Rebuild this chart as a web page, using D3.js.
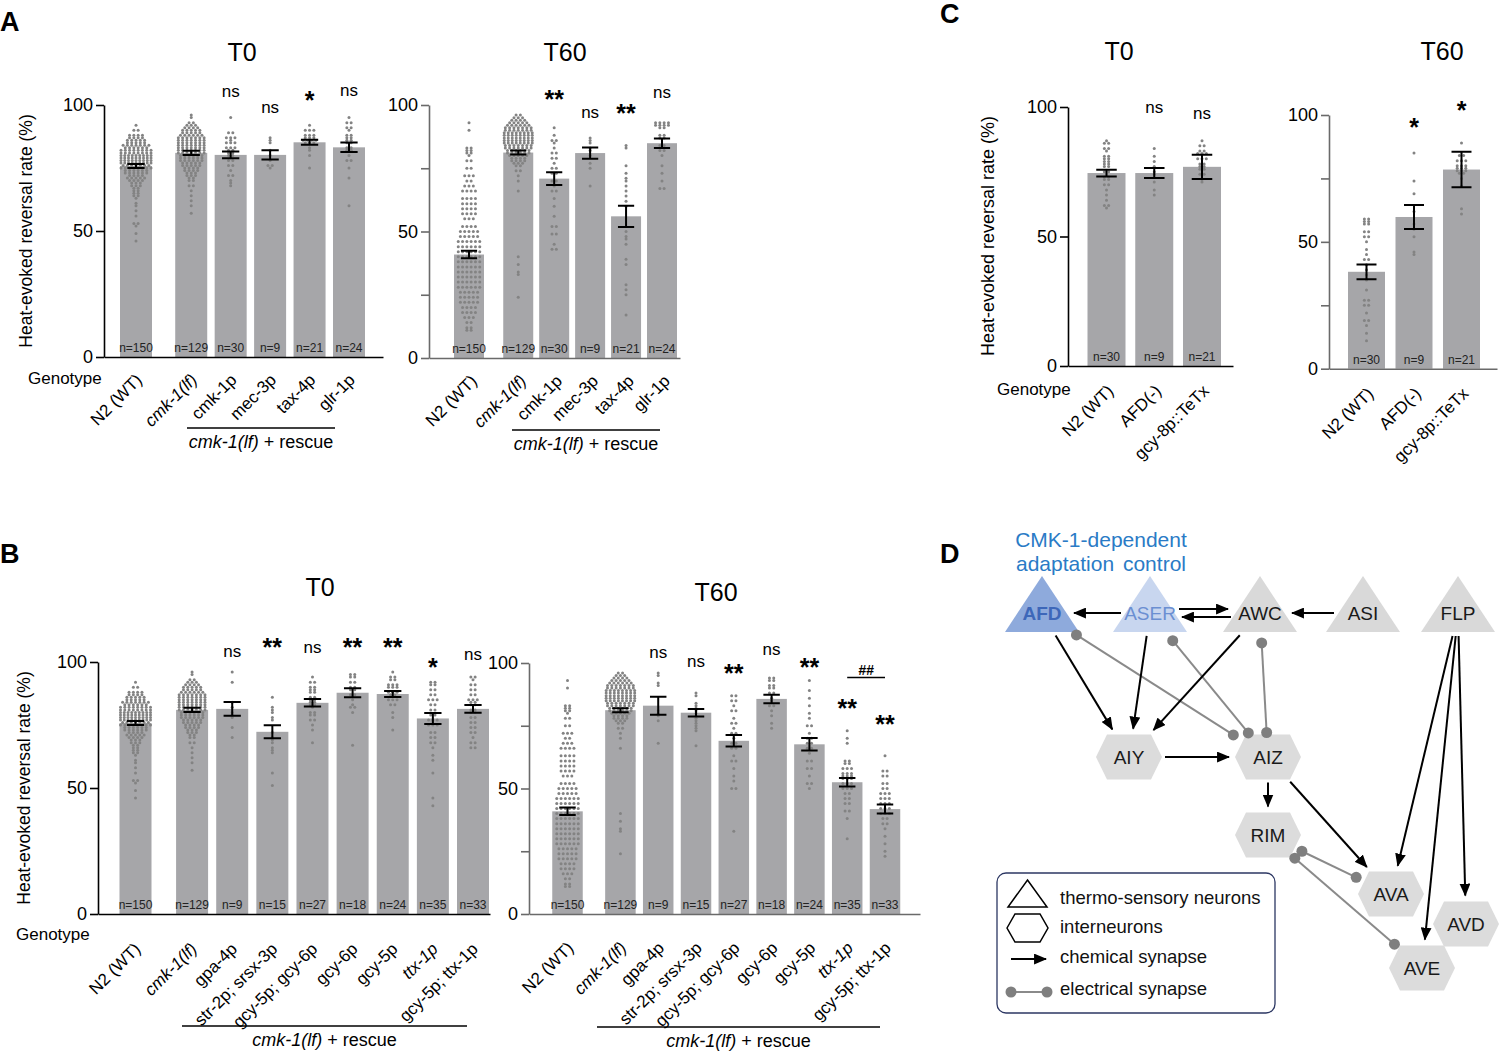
<!DOCTYPE html>
<html>
<head>
<meta charset="utf-8">
<script src="https://cdnjs.cloudflare.com/ajax/libs/d3/7.8.5/d3.min.js"></script>
<style>
  body { margin: 0; background: #fff; }
  svg { font-family: "Liberation Sans", Arial, Helvetica, sans-serif; }
</style>
</head>
<body>
<svg id="fig" width="1500" height="1054"></svg>
<script>
// ---------------- data ----------------
var catsA = ['N2 (WT)', 'cmk-1(lf)', 'cmk-1p', 'mec-3p', 'tax-4p', 'glr-1p'];
var catsB = ['N2 (WT)', 'cmk-1(lf)', 'gpa-4p', 'str-2p; srsx-3p', 'gcy-5p; gcy-6p', 'gcy-6p', 'gcy-5p', 'ttx-1p', 'gcy-5p; ttx-1p'];
var catsC = ['N2 (WT)', 'AFD(-)', 'gcy-8p::TeTx'];
var nA = [150, 129, 30, 9, 21, 24];
var nB = [150, 129, 9, 15, 27, 18, 24, 35, 33];
var nC = [30, 9, 21];

// bar means and SEM (%)
var meanA_T0 = [75.8, 81.0, 80.2, 80.2, 85.2, 83.2];
var semA_T0 = [0.8, 0.8, 1.3, 1.8, 1.0, 1.9];
var meanA_T60 = [40.9, 81.2, 70.9, 81.0, 56.0, 84.9];
var semA_T60 = [1.5, 0.8, 2.5, 2.2, 4.2, 1.9];
var meanB_T0 = [75.8, 81.0, 81.4, 72.3, 83.8, 87.8, 87.3, 77.6, 81.4];
var semB_T0 = [0.8, 0.8, 2.7, 2.6, 1.5, 1.8, 1.2, 2.2, 1.5];
var meanB_T60 = [40.9, 81.2, 83.0, 80.2, 69.0, 85.7, 67.6, 52.5, 41.8];
var semB_T60 = [1.5, 0.8, 3.6, 1.5, 2.3, 1.7, 2.5, 1.7, 1.8];
var meanC_T0 = [74.5, 74.5, 76.9];
var semC_T0 = [1.3, 1.9, 4.7];
var meanC_T60 = [38.2, 59.8, 78.5];
var semC_T60 = [2.9, 4.7, 7.0];

// significance marks and the height (in %) they sit at
var sigA_T0 = ['', '', 'ns', 'ns', '*', 'ns'];
var sigLvA_T0 = [null, null, 105, 99, 104, 105.5];
var sigA_T60 = ['', '', '**', 'ns', '**', 'ns'];
var sigLvA_T60 = [null, null, 104.3, 97, 98.8, 104.7];
var sigB_T0 = ['', '', 'ns', '**', 'ns', '**', '**', '*', 'ns'];
var sigLvB_T0 = [null, null, 104, 108, 105.5, 108, 108, 100, 102.8];
var sigB_T60 = ['', '', 'ns', 'ns', '**', 'ns', '**', '**', '**'];
var sigLvB_T60 = [null, null, 104, 100.4, 98, 105, 100.4, 84, 77.7];
var sigC_T0 = ['', 'ns', 'ns'];
var sigLvC_T0 = [null, 99.6, 97.3];
var sigC_T60 = ['', '*', '*'];
var sigLvC_T60 = [null, 97.2, 104];
// ttx-1p vs gcy-5p; ttx-1p comparison in B T60
var hashB_T60 = { from: 7, to: 8, label: '##', level: 97.2 };

// individual animals, as [value, count]
var dotsN2_T0 = [[92,1],[90,2],[88,4],[87,4],[86,5],[85,5],[84,7],[83,6],[82,8],[81,8],[80,9],[79,9],[78,9],[77,9],[76,7],[75,8],[74,6],[73,6],[72,4],[71,5],[70,4],[69,3],[68,3],[67,2],[66,2],[65,2],[64,2],[63,1],[61,1],[60,1],[58,1],[56,1],[53,2],[52,1],[49,1],[46,1]];
var dotsCmk1_T0 = [[96,1],[95,1],[93,2],[92,3],[91,4],[90,5],[89,5],[88,6],[87,7],[86,7],[85,7],[84,7],[83,7],[82,7],[81,7],[80,6],[79,6],[78,6],[77,5],[76,5],[75,4],[74,4],[73,3],[72,3],[71,2],[70,2],[68,2],[66,1],[64,1],[62,1],[60,1],[57,1]];
var dotsN2_T60 = [[93,1],[90,1],[83,2],[82,2],[81,2],[80,1],[78,2],[75,2],[72,3],[70,2],[68,3],[66,4],[63,4],[61,4],[59,4],[57,4],[55,3],[52,4],[50,5],[48,5],[46,6],[44,6],[42,6],[40,6],[38,6],[36,6],[34,6],[32,6],[30,6],[28,6],[26,5],[24,5],[22,5],[20,4],[18,4],[16,3],[14,2],[12,2],[11,2]];
var dotsCmk1_T60 = [[96,2],[95,3],[94,4],[93,5],[92,6],[91,7],[90,7],[89,8],[88,8],[87,8],[86,8],[85,8],[84,7],[83,7],[82,6],[81,6],[80,5],[79,4],[78,4],[77,3],[76,2],[74,2],[72,1],[70,1],[66,1],[40,1],[37,1],[34,1],[33,1],[24,1]];

var dotsA_T0 = [dotsN2_T0, dotsCmk1_T0,
  [[95,1],[89,2],[87,3],[86,1],[85,3],[83,3],[82,2],[81,2],[80,2],[79,1],[78,2],[76,2],[74,1],[72,2],[70,1],[69,1],[68,1]],
  [[87,1],[86,1],[85,1],[82,1],[80,1],[78,1],[76,2],[75,1]],
  [[92,1],[90,3],[88,3],[87,3],[86,4],[85,3],[83,1],[82,1],[80,1],[75,1]],
  [[95,1],[93,2],[91,2],[90,1],[88,2],[87,2],[86,2],[85,2],[83,2],[82,2],[80,1],[78,2],[75,1],[71,1],[60,1]]];
var dotsA_T60 = [dotsN2_T60, dotsCmk1_T60,
  [[91,1],[88,1],[86,2],[85,1],[83,1],[81,2],[79,2],[77,1],[75,2],[73,2],[70,2],[68,1],[66,2],[63,1],[60,1],[56,1],[52,2],[49,2],[45,1],[43,2]],
  [[87,1],[86,1],[85,1],[83,1],[82,1],[80,1],[77,1],[75,1],[68,1]],
  [[84,1],[83,1],[76,1],[73,1],[71,1],[70,1],[68,1],[66,1],[64,1],[62,1],[60,1],[50,1],[48,1],[47,1],[45,1],[39,1],[37,1],[29,1],[27,1],[25,1],[17,1]],
  [[93,4],[92,4],[91,2],[88,2],[87,2],[84,2],[82,2],[80,1],[76,1],[73,1],[70,1],[67,2]]];
var dotsB_T0 = [dotsN2_T0, dotsCmk1_T0,
  [[96,1],[92,1],[84,1],[82,1],[80,1],[79,1],[78,1],[74,1],[70,1]],
  [[86,1],[82,1],[81,1],[80,1],[78,1],[77,1],[72,1],[70,1],[69,1],[68,1],[66,1],[65,1],[64,1],[56,1],[51,1]],
  [[94,1],[92,2],[90,2],[89,2],[88,2],[86,2],[85,2],[84,2],[83,2],[82,1],[80,2],[79,2],[77,2],[75,1],[73,1],[68,1]],
  [[95,2],[94,2],[92,2],[90,2],[89,2],[87,2],[85,1],[83,1],[82,2],[80,1],[67,1]],
  [[96,1],[94,2],[93,2],[91,3],[90,3],[88,3],[87,2],[85,3],[83,2],[80,1],[78,1],[73,1]],
  [[92,2],[91,2],[89,2],[87,2],[85,3],[83,2],[81,2],[79,2],[77,3],[75,3],[72,2],[70,2],[68,2],[66,1],[63,1],[61,1],[56,1],[46,1],[43,1]],
  [[94,2],[93,1],[91,2],[89,2],[87,2],[85,3],[84,2],[83,2],[81,2],[80,2],[78,2],[76,2],[74,2],[72,2],[70,1],[68,2],[66,2]]];
var dotsB_T60 = [dotsN2_T60, dotsCmk1_T60,
  [[96,1],[95,1],[92,1],[91,1],[81,1],[80,1],[79,1],[77,1],[68,1]],
  [[88,1],[87,1],[84,1],[83,1],[82,1],[81,1],[80,1],[79,1],[78,1],[77,1],[76,1],[75,1],[74,1],[73,1],[67,1]],
  [[87,2],[85,2],[83,1],[81,2],[78,1],[76,2],[74,1],[72,2],[70,1],[68,2],[66,2],[63,1],[61,2],[58,1],[55,1],[53,1],[50,2],[33,1]],
  [[94,2],[93,2],[91,2],[90,2],[88,2],[86,1],[85,1],[83,2],[81,1],[79,1],[76,1],[74,1]],
  [[93,1],[89,1],[86,1],[83,1],[80,1],[78,1],[75,2],[72,1],[70,2],[68,2],[66,2],[64,1],[61,2],[58,2],[55,1],[52,2],[50,1]],
  [[73,1],[70,1],[68,1],[61,2],[60,2],[58,3],[56,3],[55,3],[54,3],[52,3],[50,3],[48,2],[46,2],[44,2],[41,2],[38,1],[30,1]],
  [[63,1],[57,2],[55,2],[52,2],[50,2],[48,3],[46,3],[44,3],[42,3],[40,3],[38,2],[36,2],[34,1],[31,1],[28,1],[25,1],[23,1]]];
var dotsC_T0 = [
  [[87,1],[86,2],[84,2],[83,1],[81,2],[80,2],[79,2],[78,2],[77,2],[75,2],[73,2],[72,2],[70,2],[68,1],[66,1],[64,1],[62,2],[61,1]],
  [[84,1],[81,1],[79,1],[77,1],[75,1],[74,1],[71,1],[68,1],[66,1]],
  [[87,1],[85,2],[83,2],[82,3],[80,3],[78,2],[77,2],[76,2],[74,2],[72,1],[71,1]]];
var dotsC_T60 = [
  [[59,2],[58,2],[57,2],[54,2],[52,2],[50,1],[47,1],[45,1],[43,2],[41,1],[39,1],[37,1],[35,1],[31,1],[27,2],[25,2],[22,1],[19,2],[17,1],[14,1],[11,1]],
  [[85,1],[74,1],[69,1],[62,1],[57,1],[55,1],[52,1],[46,1],[45,1]],
  [[89,1],[84,2],[82,3],[80,3],[79,3],[78,3],[77,2],[75,1],[72,1],[63,1],[61,1]]];

// circuit (panel D)
var sensoryNeurons = ['AFD', 'ASER', 'AWC', 'ASI', 'FLP'];
var interNeurons = ['AIY', 'AIZ', 'RIM', 'AVA', 'AVD', 'AVE'];
var chemicalSynapses = [['ASER','AFD'],['ASER','AWC'],['AWC','ASER'],['ASI','AWC'],['AFD','AIY'],['ASER','AIY'],['AWC','AIY'],
  ['AIY','AIZ'],['AIZ','RIM'],['AIZ','AVA'],['FLP','AVA'],['FLP','AVE'],['FLP','AVD']];
var electricalSynapses = [['AFD','AIZ'],['ASER','AIZ'],['AWC','AIZ'],['RIM','AVA'],['RIM','AVE']];

// ---------------- drawing ----------------
var svg = d3.select('#fig');
svg.append('rect').attr('width', 1500).attr('height', 1054).attr('fill', '#fff');

var BAR = '#a6a6a9', DOT = '#838383';
var italicCats = new Set(['cmk-1(lf)', 'ttx-1p']);

// scatter like prism: equal values in a centred row, kept within the bar
function scatterRows(bins, cx, y, maxW) {
  var pts = [];
  bins.forEach(function (b) {
    var c = b[1], step = Math.min(4.3, c > 1 ? maxW / (c - 1) : 0);
    for (var j = 0; j < c; j++) pts.push({ x: cx + (j - (c - 1) / 2) * step, y: y(b[0]) });
  });
  return pts;
}

function styleAxis(sel, col) {
  sel.attr('font-family', null).attr('font-size', null);
  sel.selectAll('path.domain').attr('stroke', col).attr('stroke-width', 1.6);
  sel.selectAll('.tick line').attr('stroke', col).attr('stroke-width', 1.6);
  sel.selectAll('.tick text').attr('fill', '#000').style('font-size', '18px');
}

function drawPanel(p) {
  var g = svg.append('g');
  var y = d3.scaleLinear().domain([0, 100]).range([p.y0, p.y100]);
  var slot = p.cats.map(function (c, i) { return i === 0 ? 0 : i + p.gap; });
  var x = d3.scaleLinear().domain([0, slot[slot.length - 1]]).range([p.x0, p.x1]);
  var cx = function (i) { return x(slot[i]); };
  var axisCol = p.minor ? '#6a6a6a' : '#000';

  g.append('g').selectAll('rect').data(p.mean).join('rect')
    .attr('x', function (d, i) { return cx(i) - p.barW / 2; })
    .attr('y', function (d) { return y(d); })
    .attr('width', p.barW)
    .attr('height', function (d) { return y(0) - y(d); })
    .attr('fill', BAR);

  p.dots.forEach(function (bins, i) {
    var pts = scatterRows(bins, cx(i), y, p.barW - 2);
    g.append('g').selectAll('circle').data(pts).join('circle')
      .attr('cx', function (d) { return d.x; })
      .attr('cy', function (d) { return d.y; })
      .attr('r', 1.5).attr('fill', DOT);
  });

  // error bars
  var cap = p.barW * 0.27;
  var eb = g.append('g').attr('stroke', '#000').attr('stroke-width', 2).attr('fill', 'none');
  p.mean.forEach(function (m, i) {
    var lo = y(m - p.sem[i]), hi = y(m + p.sem[i]), c = cx(i);
    eb.append('path').attr('d',
      'M' + c + ',' + lo + 'V' + hi +
      'M' + (c - cap) + ',' + hi + 'H' + (c + cap) +
      'M' + (c - cap) + ',' + lo + 'H' + (c + cap));
  });

  // n labels
  g.append('g').selectAll('text').data(p.n).join('text')
    .attr('x', function (d, i) { return cx(i); })
    .attr('y', p.y0 - 5)
    .attr('text-anchor', 'middle').attr('font-size', 12).attr('fill', '#222')
    .text(function (d) { return 'n=' + d; });

  // axes
  var yAxis = g.append('g').attr('transform', 'translate(' + p.axisX + ',0)')
    .call(d3.axisLeft(y).tickValues([0, 50, 100]).tickSize(8).tickSizeOuter(0).tickPadding(3));
  styleAxis(yAxis, axisCol);
  if (p.minor) {
    var minor = g.append('g').attr('transform', 'translate(' + p.axisX + ',0)')
      .call(d3.axisLeft(y).tickValues([25, 75]).tickSize(8).tickFormat(''));
    minor.select('path.domain').remove();
    styleAxis(minor, axisCol);
  }
  var xAxis = g.append('g').attr('transform', 'translate(0,' + p.y0 + ')')
    .call(d3.axisBottom(d3.scaleLinear().range([p.axisX, p.xEnd])).tickValues([]).tickSizeOuter(0));
  styleAxis(xAxis, axisCol);

  // rotated genotype labels
  g.append('g').selectAll('text').data(p.cats).join('text')
    .attr('transform', function (d, i) {
      return 'translate(' + (cx(i) + p.ldx) + ',' + (p.y0 + p.ldy) + ') rotate(-45)';
    })
    .attr('text-anchor', 'end').attr('font-size', 17)
    .style('font-style', function (d) { return italicCats.has(d) ? 'italic' : 'normal'; })
    .text(function (d) { return d; });

  // significance marks
  p.sig.forEach(function (s, i) {
    if (!s) return;
    var star = s.indexOf('*') >= 0;
    g.append('text')
      .attr('x', cx(i)).attr('y', y(p.sigLv[i]) + (star ? 14 : 5))
      .attr('text-anchor', 'middle')
      .attr('font-size', star ? 25 : 17)
      .attr('font-weight', star ? 'bold' : 'normal')
      .text(s);
  });
  if (p.hash) {
    var hx0 = cx(p.hash.from) - 2, hx1 = cx(p.hash.to) + 2, hy = y(p.hash.level);
    g.append('text').attr('x', (hx0 + hx1) / 2).attr('y', hy + 4.5)
      .attr('text-anchor', 'middle').attr('font-size', 14).attr('font-weight', 'bold')
      .attr('font-style', 'italic').text(p.hash.label);
    g.append('line').attr('x1', hx0 + 2).attr('x2', hx1 - 2).attr('y1', hy + 7.5).attr('y2', hy + 7.5)
      .attr('stroke', '#000').attr('stroke-width', 1.6);
  }

  // rescue bracket
  if (p.ul) {
    g.append('line').attr('x1', p.ul[0]).attr('x2', p.ul[1]).attr('y1', p.ul[2]).attr('y2', p.ul[2])
      .attr('stroke', '#000').attr('stroke-width', 1.6);
    var t = g.append('text').attr('x', (p.ul[0] + p.ul[1]) / 2).attr('y', p.ul[2] + 20)
      .attr('text-anchor', 'middle').attr('font-size', 18);
    t.append('tspan').style('font-style', 'italic').text('cmk-1(lf)');
    t.append('tspan').text(' + rescue');
  }

  // title
  g.append('text').attr('x', p.title[1]).attr('y', p.title[2]).attr('text-anchor', 'middle')
    .attr('font-size', 25).text(p.title[0]);

  if (p.ylab) {
    g.append('text')
      .attr('transform', 'translate(' + p.ylab[0] + ',' + p.ylab[1] + ') rotate(-90)')
      .attr('text-anchor', 'middle').attr('font-size', p.ylab[2])
      .text('Heat-evoked reversal rate (%)');
  }
  if (p.geno) {
    g.append('text').attr('x', p.geno[0]).attr('y', p.geno[1]).attr('font-size', 17).text('Genotype');
  }
}

drawPanel({ cats: catsA, n: nA, mean: meanA_T0, sem: semA_T0, dots: dotsA_T0, sig: sigA_T0, sigLv: sigLvA_T0,
  x0: 136, x1: 349, gap: 0.4, axisX: 104, xEnd: 383, y0: 357, y100: 105, barW: 32, minor: false,
  ldx: 7, ldy: 24, ul: [187, 335, 428], title: ['T0', 242, 61], ylab: [32, 231, 17.5], geno: [28, 384] });
drawPanel({ cats: catsA, n: nA, mean: meanA_T60, sem: semA_T60, dots: dotsA_T60, sig: sigA_T60, sigLv: sigLvA_T60,
  x0: 469, x1: 662, gap: 0.37, axisX: 429, xEnd: 680, y0: 358, y100: 105, barW: 30, minor: true,
  ldx: 9, ldy: 24, ul: [512, 660, 430], title: ['T60', 565, 61] });
drawPanel({ cats: catsC, n: nC, mean: meanC_T0, sem: semC_T0, dots: dotsC_T0, sig: sigC_T0, sigLv: sigLvC_T0,
  x0: 1106.5, x1: 1202, gap: 0, axisX: 1068, xEnd: 1233, y0: 366, y100: 107, barW: 38, minor: false,
  ldx: 8, ldy: 26, title: ['T0', 1119, 60], ylab: [994, 236, 18], geno: [997, 395] });
drawPanel({ cats: catsC, n: nC, mean: meanC_T60, sem: semC_T60, dots: dotsC_T60, sig: sigC_T60, sigLv: sigLvC_T60,
  x0: 1366.5, x1: 1461.5, gap: 0, axisX: 1329, xEnd: 1497, y0: 368.7, y100: 115, barW: 37, minor: true,
  ldx: 8, ldy: 26, title: ['T60', 1442, 60] });
drawPanel({ cats: catsB, n: nB, mean: meanB_T0, sem: semB_T0, dots: dotsB_T0, sig: sigB_T0, sigLv: sigLvB_T0,
  x0: 135.5, x1: 473, gap: 0.41, axisX: 98, xEnd: 490, y0: 914, y100: 662, barW: 32, minor: false,
  ldx: 6, ldy: 36, ul: [182, 467, 1026], title: ['T0', 320, 596], ylab: [30, 788, 17.5], geno: [16, 940] });
drawPanel({ cats: catsB, n: nB, mean: meanB_T60, sem: semB_T60, dots: dotsB_T60, sig: sigB_T60, sigLv: sigLvB_T60,
  hash: hashB_T60,
  x0: 567.5, x1: 885, gap: 0.4, axisX: 529, xEnd: 920, y0: 914, y100: 663, barW: 30.5, minor: true,
  ldx: 7, ldy: 35, ul: [597, 880, 1027], title: ['T60', 716, 601] });

// panel letters
[['A', 0, 31], ['B', 0, 563], ['C', 940, 23], ['D', 940, 563]].forEach(function (l) {
  svg.append('text').attr('x', l[1]).attr('y', l[2]).attr('font-size', 27).attr('font-weight', 'bold').text(l[0]);
});

// ---------------- panel D: circuit ----------------
var D = svg.append('g');
var defs = svg.append('defs');
defs.append('marker').attr('id', 'arr').attr('viewBox', '0 0 12 10').attr('refX', 11).attr('refY', 5)
  .attr('markerWidth', 13).attr('markerHeight', 11).attr('markerUnits', 'userSpaceOnUse').attr('orient', 'auto')
  .append('path').attr('d', 'M0,0L12,5L0,10Z').attr('fill', '#000');

var pos = { AFD: [1042, 613], ASER: [1150, 613], AWC: [1260, 613], ASI: [1363, 613], FLP: [1458, 613],
  AIY: [1129, 757], AIZ: [1268, 757], RIM: [1268, 835], AVA: [1391, 894], AVD: [1466, 924], AVE: [1422, 968] };
var triFill = { AFD: '#8eaadc', ASER: '#c8d6ef' };
var textFill = { AFD: '#3d67b9', ASER: '#6b8fd2' };
var HALF = { tri: [26, 20], hex: [33, 22.5] };
var kind = function (n) { return sensoryNeurons.indexOf(n) >= 0 ? 'tri' : 'hex'; };

function hexPath(c, w, h, inset) {
  return d3.line()([[c[0] - w, c[1]], [c[0] - w + inset, c[1] - h], [c[0] + w - inset, c[1] - h],
    [c[0] + w, c[1]], [c[0] + w - inset, c[1] + h], [c[0] - w + inset, c[1] + h]]) + 'Z';
}
function triPath(apex, baseY, hw) {
  return d3.line()([[apex[0], apex[1]], [apex[0] + hw, baseY], [apex[0] - hw, baseY]]) + 'Z';
}

// trimmed segment between two neurons
function seg(a, b, padA, padB, shift) {
  var p = pos[a], q = pos[b];
  var dx = q[0] - p[0], dy = q[1] - p[1], L = Math.hypot(dx, dy);
  var ux = dx / L, uy = dy / L;
  var ha = HALF[kind(a)], hb = HALF[kind(b)];
  var ta = Math.min(Math.abs(ux) > 1e-6 ? ha[0] / Math.abs(ux) : 1e9, Math.abs(uy) > 1e-6 ? ha[1] / Math.abs(uy) : 1e9) + padA;
  var tb = Math.min(Math.abs(ux) > 1e-6 ? hb[0] / Math.abs(ux) : 1e9, Math.abs(uy) > 1e-6 ? hb[1] / Math.abs(uy) : 1e9) + padB;
  var sx = -uy * (shift || 0), sy = ux * (shift || 0);
  return [[p[0] + ux * ta + sx, p[1] + uy * ta + sy], [q[0] - ux * tb + sx, q[1] - uy * tb + sy]];
}

// nodes
sensoryNeurons.forEach(function (n) {
  var c = pos[n];
  D.append('path').attr('d', triPath([c[0], c[1] - 37], c[1] + 19, 37)).attr('fill', triFill[n] || '#d9d9d9');
});
interNeurons.forEach(function (n) {
  D.append('path').attr('d', hexPath(pos[n], 33, 22.5, 11)).attr('fill', '#dcdcdc');
});

// electrical synapses
var eG = D.append('g');
electricalSynapses.forEach(function (e) {
  var s = seg(e[0], e[1], kind(e[0]) === 'tri' ? 10 : 1, 2, 0);
  eG.append('line').attr('x1', s[0][0]).attr('y1', s[0][1]).attr('x2', s[1][0]).attr('y2', s[1][1])
    .attr('stroke', '#8a8a8a').attr('stroke-width', 2);
  s.forEach(function (pt) {
    eG.append('circle').attr('cx', pt[0]).attr('cy', pt[1]).attr('r', 5.5).attr('fill', '#7f7f7f');
  });
});

// chemical synapses
var cG = D.append('g');
chemicalSynapses.forEach(function (e) {
  var both = chemicalSynapses.some(function (f) { return f[0] === e[1] && f[1] === e[0]; });
  var s = seg(e[0], e[1], 3, 6, both ? -4 : 0);
  cG.append('line').attr('x1', s[0][0]).attr('y1', s[0][1]).attr('x2', s[1][0]).attr('y2', s[1][1])
    .attr('stroke', '#000').attr('stroke-width', 2).attr('marker-end', 'url(#arr)');
});

// node labels
sensoryNeurons.concat(interNeurons).forEach(function (n) {
  D.append('text').attr('x', pos[n][0]).attr('y', pos[n][1] + 7).attr('text-anchor', 'middle')
    .attr('font-size', 19).attr('font-weight', n === 'AFD' ? 'bold' : 'normal')
    .attr('fill', textFill[n] || '#1a1a1a').text(n);
});

// CMK-1 caption
D.append('text').attr('x', 1101).attr('y', 547).attr('text-anchor', 'middle').attr('font-size', 21)
  .attr('fill', '#2a7bc6').text('CMK-1-dependent');
D.append('text').attr('x', 1101).attr('y', 571).attr('text-anchor', 'middle').attr('font-size', 21)
  .attr('fill', '#2a7bc6').attr('word-spacing', 3).text('adaptation control');

// legend
var L = D.append('g');
L.append('rect').attr('x', 997).attr('y', 873).attr('width', 278).attr('height', 140).attr('rx', 9)
  .attr('fill', '#fff').attr('stroke', '#2c3763').attr('stroke-width', 1.3);
L.append('path').attr('d', triPath([1027.5, 880], 907, 19.5)).attr('fill', '#fff').attr('stroke', '#000').attr('stroke-width', 1.5);
L.append('path').attr('d', hexPath([1027.5, 928], 20.5, 14, 8)).attr('fill', '#fff').attr('stroke', '#000').attr('stroke-width', 1.5);
L.append('line').attr('x1', 1011).attr('x2', 1046).attr('y1', 959).attr('y2', 959)
  .attr('stroke', '#000').attr('stroke-width', 2).attr('marker-end', 'url(#arr)');
L.append('line').attr('x1', 1011).attr('x2', 1047).attr('y1', 992).attr('y2', 992)
  .attr('stroke', '#8a8a8a').attr('stroke-width', 2);
[1011, 1047].forEach(function (xx) {
  L.append('circle').attr('cx', xx).attr('cy', 992).attr('r', 5.5).attr('fill', '#7f7f7f');
});
[['thermo-sensory neurons', 904], ['interneurons', 933], ['chemical synapse', 963], ['electrical synapse', 995]].forEach(function (t) {
  L.append('text').attr('x', 1060).attr('y', t[1]).attr('font-size', 18.5).attr('fill', '#111').text(t[0]);
});
</script>
</body>
</html>
